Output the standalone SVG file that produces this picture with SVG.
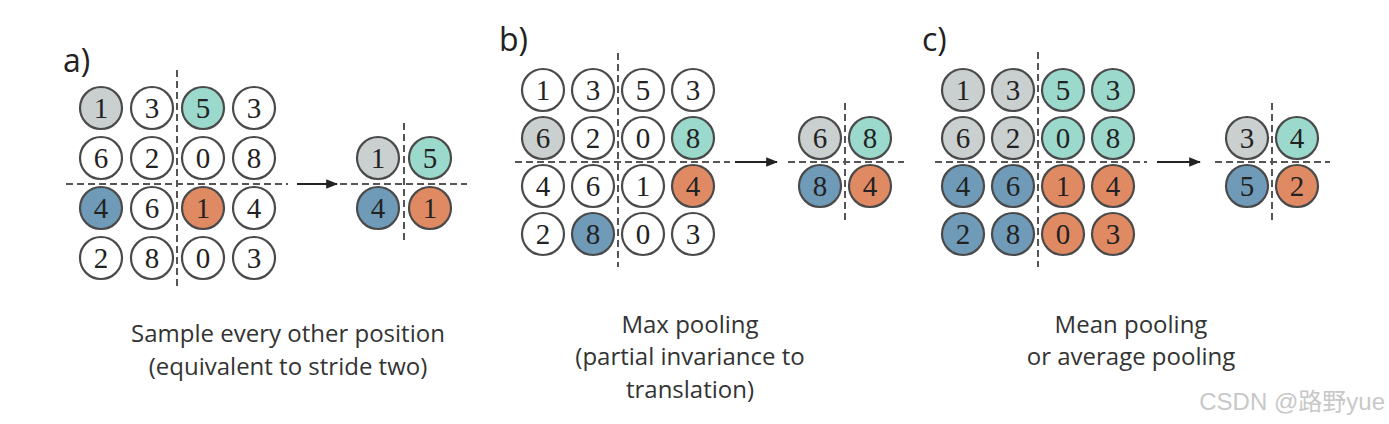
<svg xmlns="http://www.w3.org/2000/svg" width="1389" height="424" viewBox="0 0 1389 424">
<style>
.c{stroke:#4a4a4a;stroke-width:2.2}
.w{fill:#ffffff}
.g{fill:#c9d0cf}
.t{fill:#9bd9cc}
.b{fill:#6f9bb8}
.o{fill:#e08a64}
.d{font-family:"Liberation Serif","DejaVu Serif",serif;font-size:29px;fill:#222;text-anchor:middle}
.dash{stroke:#555;stroke-width:2;stroke-dasharray:7 4;fill:none}
.lab{font-family:"Open Sans","Noto Sans",sans-serif;font-size:32px;fill:#222}
.cap{font-family:"Open Sans","Noto Sans",sans-serif;font-size:24px;fill:#333;text-anchor:middle}
.arr{stroke:#222;stroke-width:2;fill:none}
</style>
<defs>
<marker id="ah" viewBox="0 0 10 10" refX="9" refY="5" markerWidth="6" markerHeight="6" orient="auto"><path d="M0,1 L10,5 L0,9 z" fill="#222"/></marker>
</defs>
<rect width="1389" height="424" fill="#ffffff"/>

<text class="lab" x="63" y="72">a)</text>
<text class="lab" x="499" y="51">b)</text>
<text class="lab" x="922" y="51">c)</text>

<g id="connectors">
<line class="dash" x1="177" y1="70" x2="177" y2="290"/>
<line class="dash" x1="66" y1="184" x2="288" y2="184"/>
<line class="arr" x1="297" y1="184" x2="337" y2="184" marker-end="url(#ah)"/>
<line class="dash" x1="340" y1="184" x2="467" y2="184"/>
<line class="dash" x1="404" y1="123" x2="404" y2="243"/>

<line class="dash" x1="618" y1="53" x2="618" y2="267"/>
<line class="dash" x1="515" y1="162" x2="730" y2="162"/>
<line class="arr" x1="735" y1="162" x2="777" y2="162" marker-end="url(#ah)"/>
<line class="dash" x1="788" y1="162" x2="904" y2="162"/>
<line class="dash" x1="845" y1="103" x2="845" y2="220"/>

<line class="dash" x1="1038" y1="52" x2="1038" y2="267"/>
<line class="dash" x1="935" y1="162" x2="1147" y2="162"/>
<line class="arr" x1="1157" y1="162" x2="1200" y2="162" marker-end="url(#ah)"/>
<line class="dash" x1="1215" y1="162" x2="1330" y2="162"/>
<line class="dash" x1="1272" y1="103" x2="1272" y2="220"/>
</g>

<!-- panel a -->
<g id="a11"><circle class="c g" cx="101" cy="108" r="21"/><text class="d" x="101" y="118">1</text></g>
<g id="a12"><circle class="c w" cx="152" cy="108" r="21"/><text class="d" x="152" y="118">3</text></g>
<g id="a13"><circle class="c t" cx="203" cy="108" r="21"/><text class="d" x="203" y="118">5</text></g>
<g id="a14"><circle class="c w" cx="254" cy="108" r="21"/><text class="d" x="254" y="118">3</text></g>
<g id="a21"><circle class="c w" cx="101" cy="158" r="21"/><text class="d" x="101" y="168">6</text></g>
<g id="a22"><circle class="c w" cx="152" cy="158" r="21"/><text class="d" x="152" y="168">2</text></g>
<g id="a23"><circle class="c w" cx="203" cy="158" r="21"/><text class="d" x="203" y="168">0</text></g>
<g id="a24"><circle class="c w" cx="254" cy="158" r="21"/><text class="d" x="254" y="168">8</text></g>
<g id="a31"><circle class="c b" cx="101" cy="208" r="21"/><text class="d" x="101" y="218">4</text></g>
<g id="a32"><circle class="c w" cx="152" cy="208" r="21"/><text class="d" x="152" y="218">6</text></g>
<g id="a33"><circle class="c o" cx="203" cy="208" r="21"/><text class="d" x="203" y="218">1</text></g>
<g id="a34"><circle class="c w" cx="254" cy="208" r="21"/><text class="d" x="254" y="218">4</text></g>
<g id="a41"><circle class="c w" cx="101" cy="258" r="21"/><text class="d" x="101" y="268">2</text></g>
<g id="a42"><circle class="c w" cx="152" cy="258" r="21"/><text class="d" x="152" y="268">8</text></g>
<g id="a43"><circle class="c w" cx="203" cy="258" r="21"/><text class="d" x="203" y="268">0</text></g>
<g id="a44"><circle class="c w" cx="254" cy="258" r="21"/><text class="d" x="254" y="268">3</text></g>
<g id="ar11"><circle class="c g" cx="378" cy="158" r="21"/><text class="d" x="378" y="168">1</text></g>
<g id="ar12"><circle class="c t" cx="430" cy="158" r="21"/><text class="d" x="430" y="168">5</text></g>
<g id="ar21"><circle class="c b" cx="378" cy="208" r="21"/><text class="d" x="378" y="218">4</text></g>
<g id="ar22"><circle class="c o" cx="430" cy="208" r="21"/><text class="d" x="430" y="218">1</text></g>

<!-- panel b -->
<g id="b11"><circle class="c w" cx="543" cy="90" r="21"/><text class="d" x="543" y="100">1</text></g>
<g id="b12"><circle class="c w" cx="593" cy="90" r="21"/><text class="d" x="593" y="100">3</text></g>
<g id="b13"><circle class="c w" cx="643" cy="90" r="21"/><text class="d" x="643" y="100">5</text></g>
<g id="b14"><circle class="c w" cx="693" cy="90" r="21"/><text class="d" x="693" y="100">3</text></g>
<g id="b21"><circle class="c g" cx="543" cy="138" r="21"/><text class="d" x="543" y="148">6</text></g>
<g id="b22"><circle class="c w" cx="593" cy="138" r="21"/><text class="d" x="593" y="148">2</text></g>
<g id="b23"><circle class="c w" cx="643" cy="138" r="21"/><text class="d" x="643" y="148">0</text></g>
<g id="b24"><circle class="c t" cx="693" cy="138" r="21"/><text class="d" x="693" y="148">8</text></g>
<g id="b31"><circle class="c w" cx="543" cy="186" r="21"/><text class="d" x="543" y="196">4</text></g>
<g id="b32"><circle class="c w" cx="593" cy="186" r="21"/><text class="d" x="593" y="196">6</text></g>
<g id="b33"><circle class="c w" cx="643" cy="186" r="21"/><text class="d" x="643" y="196">1</text></g>
<g id="b34"><circle class="c o" cx="693" cy="186" r="21"/><text class="d" x="693" y="196">4</text></g>
<g id="b41"><circle class="c w" cx="543" cy="234" r="21"/><text class="d" x="543" y="244">2</text></g>
<g id="b42"><circle class="c b" cx="593" cy="234" r="21"/><text class="d" x="593" y="244">8</text></g>
<g id="b43"><circle class="c w" cx="643" cy="234" r="21"/><text class="d" x="643" y="244">0</text></g>
<g id="b44"><circle class="c w" cx="693" cy="234" r="21"/><text class="d" x="693" y="244">3</text></g>
<g id="br11"><circle class="c g" cx="820" cy="138" r="21"/><text class="d" x="820" y="148">6</text></g>
<g id="br12"><circle class="c t" cx="870" cy="138" r="21"/><text class="d" x="870" y="148">8</text></g>
<g id="br21"><circle class="c b" cx="820" cy="186" r="21"/><text class="d" x="820" y="196">8</text></g>
<g id="br22"><circle class="c o" cx="870" cy="186" r="21"/><text class="d" x="870" y="196">4</text></g>

<!-- panel c -->
<g id="c11"><circle class="c g" cx="963" cy="90" r="21"/><text class="d" x="963" y="100">1</text></g>
<g id="c12"><circle class="c g" cx="1013" cy="90" r="21"/><text class="d" x="1013" y="100">3</text></g>
<g id="c13"><circle class="c t" cx="1063" cy="90" r="21"/><text class="d" x="1063" y="100">5</text></g>
<g id="c14"><circle class="c t" cx="1113" cy="90" r="21"/><text class="d" x="1113" y="100">3</text></g>
<g id="c21"><circle class="c g" cx="963" cy="138" r="21"/><text class="d" x="963" y="148">6</text></g>
<g id="c22"><circle class="c g" cx="1013" cy="138" r="21"/><text class="d" x="1013" y="148">2</text></g>
<g id="c23"><circle class="c t" cx="1063" cy="138" r="21"/><text class="d" x="1063" y="148">0</text></g>
<g id="c24"><circle class="c t" cx="1113" cy="138" r="21"/><text class="d" x="1113" y="148">8</text></g>
<g id="c31"><circle class="c b" cx="963" cy="186" r="21"/><text class="d" x="963" y="196">4</text></g>
<g id="c32"><circle class="c b" cx="1013" cy="186" r="21"/><text class="d" x="1013" y="196">6</text></g>
<g id="c33"><circle class="c o" cx="1063" cy="186" r="21"/><text class="d" x="1063" y="196">1</text></g>
<g id="c34"><circle class="c o" cx="1113" cy="186" r="21"/><text class="d" x="1113" y="196">4</text></g>
<g id="c41"><circle class="c b" cx="963" cy="234" r="21"/><text class="d" x="963" y="244">2</text></g>
<g id="c42"><circle class="c b" cx="1013" cy="234" r="21"/><text class="d" x="1013" y="244">8</text></g>
<g id="c43"><circle class="c o" cx="1063" cy="234" r="21"/><text class="d" x="1063" y="244">0</text></g>
<g id="c44"><circle class="c o" cx="1113" cy="234" r="21"/><text class="d" x="1113" y="244">3</text></g>
<g id="cr11"><circle class="c g" cx="1247" cy="138" r="21"/><text class="d" x="1247" y="148">3</text></g>
<g id="cr12"><circle class="c t" cx="1297" cy="138" r="21"/><text class="d" x="1297" y="148">4</text></g>
<g id="cr21"><circle class="c b" cx="1247" cy="186" r="21"/><text class="d" x="1247" y="196">5</text></g>
<g id="cr22"><circle class="c o" cx="1297" cy="186" r="21"/><text class="d" x="1297" y="196">2</text></g>

<text class="cap" x="288" y="342">Sample every other position</text>
<text class="cap" x="288" y="375">(equivalent to stride two)</text>
<text class="cap" x="690" y="333">Max pooling</text>
<text class="cap" x="690" y="365">(partial invariance to</text>
<text class="cap" x="690" y="398">translation)</text>
<text class="cap" x="1131" y="333">Mean pooling</text>
<text class="cap" x="1131" y="365">or average pooling</text>
<text x="1385" y="410" text-anchor="end" style="font-family:'Liberation Sans','Noto Sans CJK SC',sans-serif;font-size:24px;fill:#c8c8c8">CSDN @路野yue</text>
</svg>
